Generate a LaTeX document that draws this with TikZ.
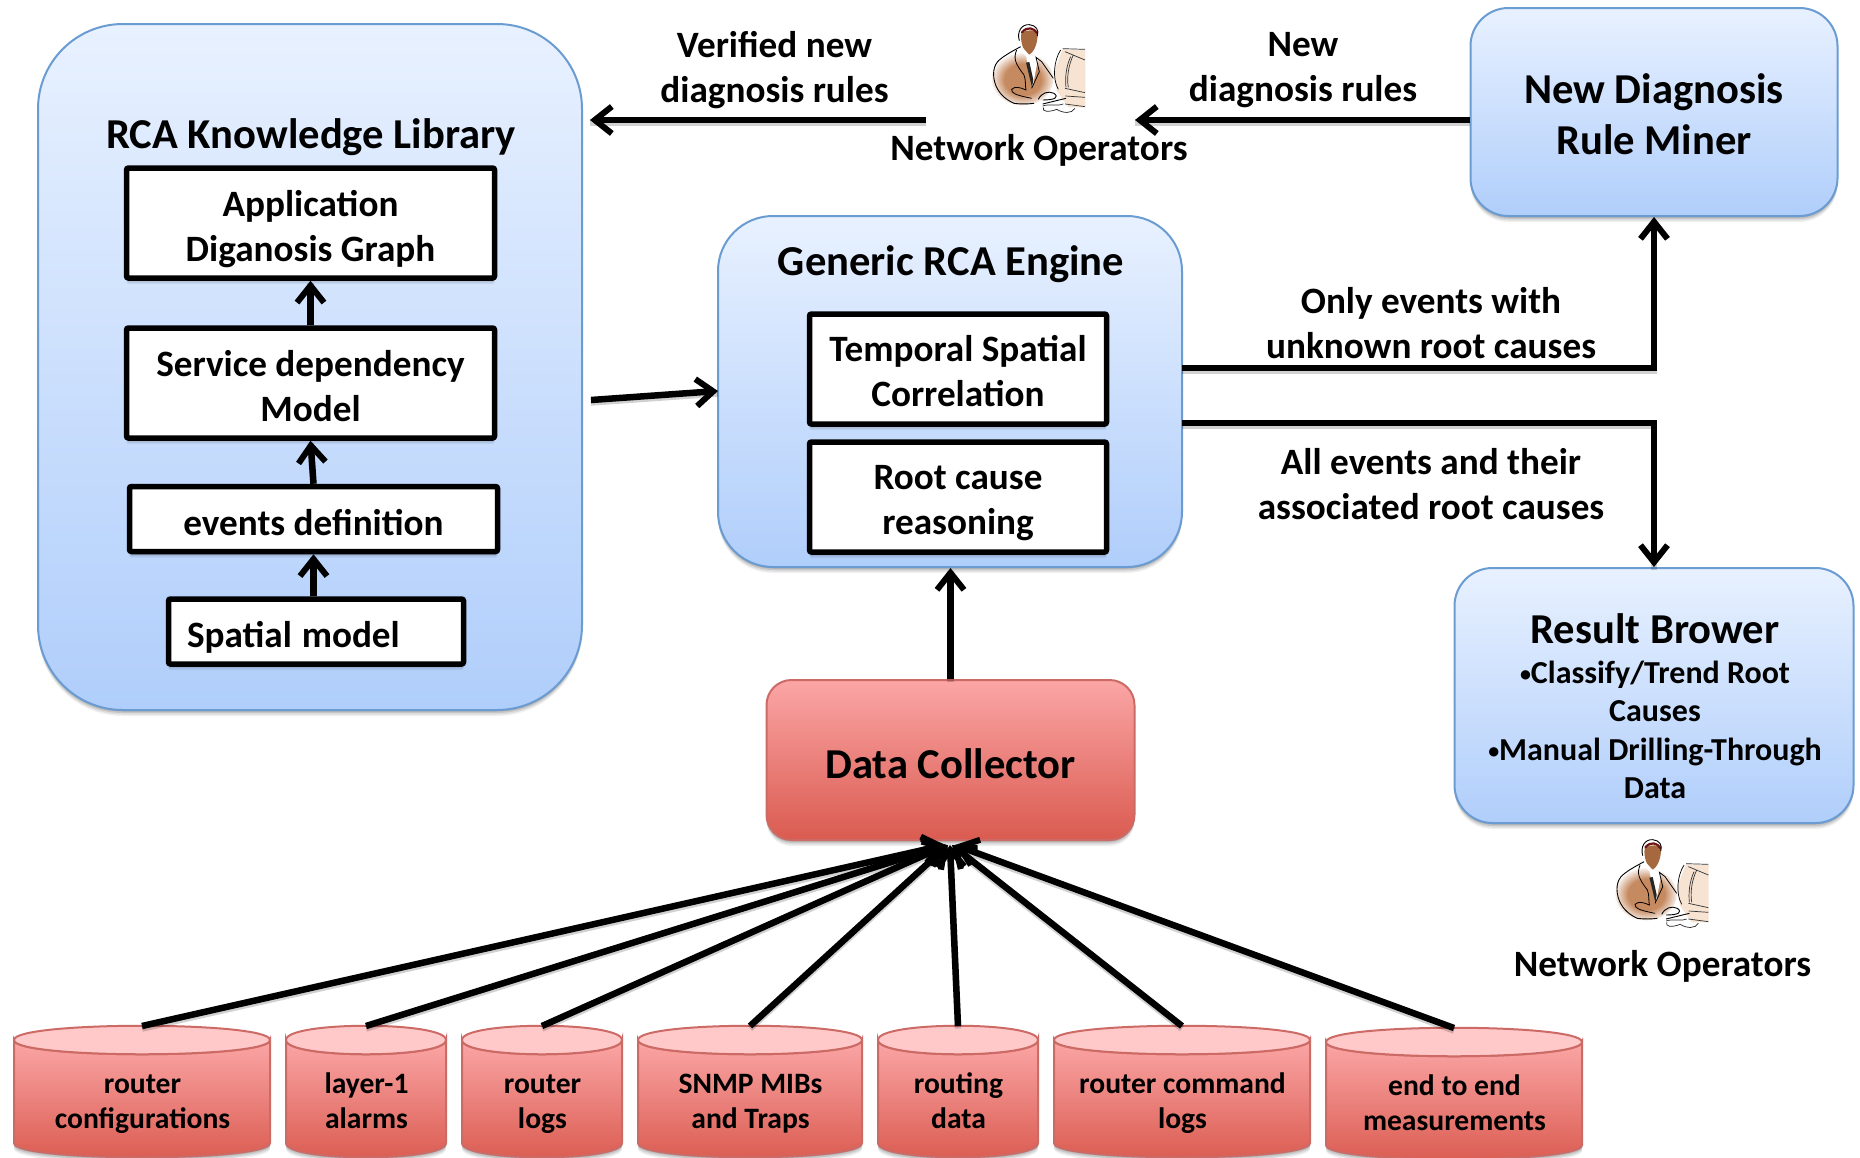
\documentclass[tikz,border=0pt]{standalone}
\usepackage{fontspec}
\setmainfont{Carlito}
\usetikzlibrary{arrows.meta,calc}
\definecolor{bluetop}{HTML}{E8F1FF}
\definecolor{bluebot}{HTML}{B0CEFB}
\definecolor{blueline}{HTML}{6A9CD2}
\definecolor{redtop}{HTML}{FBA6A6}
\definecolor{redbot}{HTML}{DA5B50}
\definecolor{redline}{HTML}{CC6A66}
\definecolor{redcap}{HTML}{FFC9C9}
\definecolor{suit}{HTML}{C68A60}
\definecolor{skin}{HTML}{A5683F}
\definecolor{screen}{HTML}{F6E3D2}
\definecolor{hair}{HTML}{6E1414}
\pgfdeclareradialshading{suitshade}{\pgfpointorigin}{color(0bp)=(suit); color(15bp)=(suit); color(25bp)=(suit!15!white); color(50bp)=(white)}
\newcommand{\dn}[1]{\rule{0pt}{#1pt}}
\tikzset{
  softshadow/.style={
    preaction={fill=black,fill opacity=.06,transform canvas={yshift=-6pt}},
    preaction={fill=black,fill opacity=.08,transform canvas={yshift=-4.5pt}},
    preaction={fill=black,fill opacity=.10,transform canvas={yshift=-3pt}},
    preaction={fill=black,fill opacity=.12,transform canvas={yshift=-1.5pt}}},
  bluebox/.style={softshadow,draw=blueline,line width=2pt,top color=bluetop,bottom color=bluebot,
    rounded corners=#1,align=center,inner sep=0pt},
  redbox/.style={softshadow,draw=redline,line width=2pt,top color=redtop,bottom color=redbot,
    rounded corners=25pt,align=center,inner sep=0pt},
  whitebox/.style={softshadow,draw=black,line width=5.5pt,fill=white,rounded corners=2pt,align=center,inner sep=0pt},
  lbl/.style={align=center,inner sep=0pt,font=\fontsize{37.2}{45}\selectfont\bfseries},
  biglbl/.style={align=center,inner sep=0pt,font=\fontsize{42.6}{51}\selectfont\bfseries},
  smalllbl/.style={align=center,inner sep=0pt,font=\fontsize{29.6}{35.5}\selectfont\bfseries},
  arr/.style={line width=6.5pt,-{Straight Barb[length=17pt,width=27pt,line width=6pt]},
    preaction={draw=black,draw opacity=.18,line width=6.5pt,transform canvas={yshift=-2.5pt},-}},
}
\newcommand{\manart}{%
  \path[shading=suitshade] (368,238) ellipse[x radius=92,y radius=78];
  \fill[screen] (488,148) -- (556,150) -- (556,322) -- (505,322) -- (470,272) -- (462,215) -- cycle;
  \fill[skin] (364,100) .. controls (385,85) and (405,90) .. (413,102) .. controls (413,130) and (402,160) .. (384,165) .. controls (370,152) and (360,125) .. (364,100);
  \fill[white] (356,150) -- (378,168) -- (398,262) -- (415,170) -- (388,165) -- (365,140) -- cycle;
  \fill[black!85] (378,188) -- (388,186) -- (400,240) -- (396,262) -- cycle;
  \draw[hair,line width=2.2pt,line cap=round] (366,97) .. controls (382,78) and (402,84) .. (411,99);
  \draw[black,line width=.9pt] (358,122) .. controls (350,95) and (365,72) .. (388,74) .. controls (408,76) and (418,90) .. (412,108);
  \draw[black,line width=.9pt] (362,140) .. controls (340,152) and (315,165) .. (298,180) .. controls (280,195) and (275,225) .. (288,258) .. controls (300,285) and (320,300) .. (342,310) .. controls (365,313) and (385,312) .. (402,310);
  \draw[black,line width=.8pt] (350,150) .. controls (340,175) and (345,190) .. (372,225) .. controls (378,240) and (375,255) .. (378,270) .. controls (360,262) and (345,258) .. (335,268) .. controls (335,280) and (345,285) .. (395,295);
  \draw[black,line width=.8pt] (395,265) -- (418,215) -- (408,172) -- (425,185) -- (460,235);
  \draw[black,line width=.7pt] (482,150) .. controls (462,180) and (456,235) .. (475,268);
  \draw[black!80,line width=.7pt] (488,146) -- (555,148) (495,155) -- (555,180) (520,165) .. controls (505,195) and (500,235) .. (505,262) (512,170) .. controls (498,200) and (495,235) .. (498,262) (495,265) -- (555,278) (496,288) -- (555,292) (495,312) -- (555,320);
  \draw[black,line width=.9pt] (415,298) .. controls (425,278) and (445,272) .. (462,280) .. controls (478,292) and (465,300) .. (428,300);
  \draw[black,line width=.9pt] (498,295) -- (428,312);
  \draw[black!85,line width=.7pt] (428,318) .. controls (450,310) and (475,320) .. (490,312) (430,322) .. controls (425,335) and (445,338) .. (470,328) .. controls (490,340) and (515,342) .. (525,325);
}
\newcommand{\cylnode}[6]{% name, cx, half width, y offset, line1, line2
  \begin{scope}[shift={(#2,#4)}]
    \path[softshadow] (-#3,1040) -- (-#3,1143) .. controls (-#3,1162) and (#3,1162) .. (#3,1143) -- (#3,1040) -- cycle;
    \draw[draw=redline,line width=2pt,top color=redtop,bottom color=redbot] (-#3,1040) -- (-#3,1143) .. controls (-#3,1162) and (#3,1162) .. (#3,1143) -- (#3,1040) .. controls (#3,1059) and (-#3,1059) .. (-#3,1040) -- cycle;
    \draw[draw=redline,line width=2pt,fill=redcap] (-#3,1040) .. controls (-#3,1021) and (#3,1021) .. (#3,1040) .. controls (#3,1059) and (-#3,1059) .. (-#3,1040) -- cycle;
    \node[smalllbl] (#1) at (0.5,1103) {\rule{0pt}{24pt}#5\\#6\rule[-8pt]{0pt}{8pt}};
    \coordinate (#1-top) at (0,1026);
  \end{scope}}
\begin{document}
\begin{tikzpicture}[x=1pt,y=-1pt]
\useasboundingbox (0,0) rectangle (1860,1157);
\fill[white] (0,0) rectangle (1860,1157);

% blue containers
\node[bluebox=85pt,minimum width=544pt,minimum height=686pt] (lib) at (310,367) {};
\node[biglbl] (libt) at (311,137) {RCA Knowledge Library};
\node[whitebox,lbl,minimum width=368pt,minimum height=110pt] (app) at (310.5,223) {\dn{39}Application\\Diganosis Graph};
\node[whitebox,lbl,minimum width=368pt,minimum height=110pt] (svc) at (310.5,383) {\dn{32}Service dependency\\Model};
\node[whitebox,lbl,minimum width=368pt,minimum height=65pt] (evt) at (313.5,519) {\dn{33}events definition};
\node[whitebox,lbl,align=left,text width=258pt,inner xsep=18.5pt,minimum height=65pt] (spa) at (316,631.5) {\dn{37}Spatial\hspace{-2.5pt} model};

\node[bluebox=55pt,minimum width=464pt,minimum height=351pt] (eng) at (950,391.5) {};
\node[biglbl] (engt) at (951,264) {Generic RCA Engine};
\node[whitebox,lbl,minimum width=297pt,minimum height=110pt] (tsc) at (958,369) {\dn{30}Temporal Spatial\\Correlation};
\node[whitebox,lbl,minimum width=297pt,minimum height=110pt] (rcr) at (958,497) {\dn{36}Root cause\\reasoning};

\node[bluebox=38pt,biglbl,minimum width=367pt,minimum height=208pt] (miner) at (1654,112) {\dn{35}New Diagnosis\\Rule Miner};

\node[bluebox=38pt,minimum width=399pt,minimum height=255pt] (res) at (1654,695.5) {};
\node[biglbl] (rest) at (1655,629) {Result Brower};
\node[align=center,inner sep=0pt,font=\fontsize{32}{38.5}\selectfont\bfseries] (resb) at (1655,730)
  {{\fontsize{22}{22}\selectfont\raisebox{1.5pt}{•}}Classify/Trend Root\\Causes\\{\fontsize{22}{22}\selectfont\raisebox{1.5pt}{•}}Manual Drilling-Through\\Data};

\node[redbox,biglbl,minimum width=368pt,minimum height=160pt] (dc) at (950.5,760) {\dn{37}Data Collector};

% cylinders
\cylnode{c1}{142}{128}{0}{router}{configurations}
\cylnode{c2}{366}{80}{0}{layer-1}{alarms}
\cylnode{c3}{542}{80}{0}{router}{logs}
\cylnode{c4}{750}{112}{0}{SNMP MIBs}{and Traps}
\cylnode{c5}{958}{80}{0}{routing}{data}
\cylnode{c6}{1182}{128}{0}{router command}{logs}
\cylnode{c7}{1454}{128}{2}{end to end}{measurements}

% operators
\begin{scope}[shift={(900,0)},x=.3333pt,y=-.3333pt]\manart\end{scope}
\begin{scope}[shift={(1523.4,815)},x=.3333pt,y=-.3333pt]\manart\end{scope}
\node[lbl] (op1) at (1039,150.4) {Network Operators};
\node[lbl] (op2) at (1662.5,966.4) {Network Operators};

% edge labels
\node[lbl] (lv) at (774.5,70) {Verified new\\diagnosis rules};
\node[lbl] (ln) at (1303,70) {New\\diagnosis rules};
\node[lbl] (lo) at (1431,323) {Only events with\\unknown root causes};
\node[lbl] (la) at (1431,484) {All events and their\\associated root causes};

% connector ends
\coordinate (libin) at (590,120);
\coordinate (opout) at (926,120);
\coordinate (opin) at (1135,120);
\coordinate (libout) at (591,400);
\coordinate (engin) at (718,391);
\coordinate (enga) at (1182,368);
\coordinate (engb) at (1182,423);
\coordinate (minl) at (1470,120);
\coordinate (d1) at (945,845);
\coordinate (d2) at (946,845);
\coordinate (d3) at (947,845);
\coordinate (d4) at (948,845);
\coordinate (d5) at (950,845);
\coordinate (d6) at (952,845);
\coordinate (d7) at (955,845);

% connectors
\draw[arr] (opout) -- (libin);
\draw[arr] (minl) -- (opin);
\draw[arr] (libout) -- (engin);
\draw[arr] (enga) -- (enga -| miner.south) -- (miner.south);
\draw[arr] (engb) -- (engb -| res.north) -- (res.north);
\draw[arr] (svc.north) -- (app.south);
\draw[arr] (evt.north) -- (svc.south);
\draw[arr] (spa.north -| evt.north) -- (evt.south);
\draw[arr] (dc.north) -- (dc.north |- eng.south);
\draw[arr] (c1-top) -- (d1);
\draw[arr] (c2-top) -- (d2);
\draw[arr] (c3-top) -- (d3);
\draw[arr] (c4-top) -- (d4);
\draw[arr] (c5-top) -- (d5);
\draw[arr] (c6-top) -- (d6);
\draw[arr] (c7-top) -- (d7);
\end{tikzpicture}
\end{document}
